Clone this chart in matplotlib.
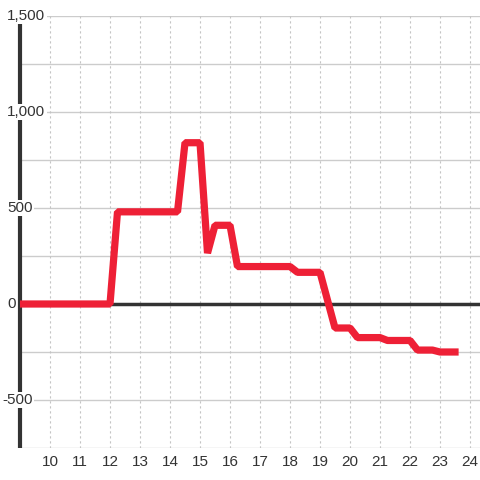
import matplotlib
matplotlib.use("Agg")
from matplotlib import pyplot as plt
from matplotlib.transforms import blended_transform_factory

# values (hour of day -> value)
hours = [9, 12, 12.25, 14.25, 14.5, 15, 15.25, 15.5, 16, 16.25, 18, 18.25,
         19, 19.5, 20, 20.25, 21, 21.25, 22, 22.25, 22.75, 23, 23.5]
values = [0, 0, 480, 480, 840, 840, 265, 410, 410, 195, 195, 165,
          165, -125, -125, -175, -175, -190, -190, -240, -240, -250, -250]

x_ticks = list(range(10, 25))
y_grid = [-750, -500, -250, 0, 250, 500, 750, 1000, 1250, 1500]
y_labels = {1500: "1,500", 1000: "1,000", 500: "500", 0: "0", -500: "-500"}

plt.rcParams['font.family'] = ['Liberation Sans', 'DejaVu Sans']

fig = plt.figure(figsize=(4.8, 4.8), dpi=100)
ax = fig.add_axes([20 / 480, 32 / 480, 460 / 480, 432 / 480])
ax.set_xlim(9, 24.333)
ax.set_ylim(-750, 1500)

for s in ax.spines.values():
    s.set_visible(False)

# grid
for y in y_grid:
    ax.axhline(y, color="#cccccc", lw=1, zorder=1)
for x in x_ticks:
    ax.axvline(x, color="#c4c4c4", lw=0.8, ls=(0, (2, 2.5)), zorder=1)

# zero line and left axis line
ax.axhline(0, color="#333333", lw=2.5, zorder=2)
ax.plot([9, 9], [-750, 1460], color="#333333", lw=3, zorder=2,
        solid_capstyle="butt", clip_on=False)

ax.plot(hours, values, color="#ee2036", lw=5.2, zorder=3,
        solid_joinstyle="bevel", solid_capstyle="projecting")

ax.set_xticks(x_ticks)
ax.set_xticklabels([str(h) for h in x_ticks])
ax.set_yticks([])
ax.tick_params(axis="x", length=0, pad=5, labelsize=11, labelcolor="#333333")

# y labels sit inside the plot on a white box
lab_tr = blended_transform_factory(fig.transFigure, ax.transData)
for y, lab in y_labels.items():
    xpix = 2 if lab.startswith("-") else 7
    ax.text(xpix / 480, y, lab, transform=lab_tr, ha="left", va="center",
            fontsize=11, color="#333333", zorder=4,
            bbox=dict(facecolor="white", edgecolor="none", pad=1))

fig.savefig("out.png", dpi=100)
